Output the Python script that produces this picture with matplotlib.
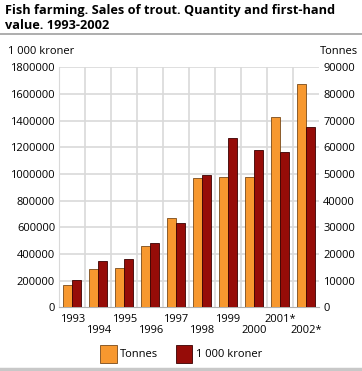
import matplotlib.pyplot as plt
import numpy as np
from matplotlib.lines import Line2D
from matplotlib.patches import Patch
from matplotlib.ticker import FormatStrFormatter

years = ['1993', '1994', '1995', '1996', '1997', '1998', '1999', '2000', '2001*', '2002*']
tonnes = [8250, 14250, 14600, 22900, 33400, 48600, 48750, 49000, 71500, 83700]
kroner = [202500, 345000, 362000, 480000, 630000, 990000, 1267500, 1177500, 1162500, 1352000]

orange = '#f7982f'
darkred = '#960c08'
grid_col = '#d9d9d9'

plt.rcParams['font.family'] = ['Open Sans', 'DejaVu Sans']
plt.rcParams['font.size'] = 8

fig = plt.figure(figsize=(3.62, 3.71), dpi=100)
ax2 = fig.add_axes([0.1638, 0.1717, 0.7172, 0.6469])
ax = ax2.twinx()   # kroner axis drawn on top, ticks moved to the left
ax.yaxis.tick_left()
ax2.yaxis.tick_right()

x = np.arange(len(years))
w = 0.346
ax2.bar(x - w / 2, tonnes, width=w, color=orange, edgecolor='#7a4a1a', linewidth=0.6, zorder=3)
ax.bar(x + w / 2, kroner, width=w, color=darkred, edgecolor='#3a0000', linewidth=0.6, zorder=3)

ax2.set_xlim(-0.5, len(years) - 0.5)
ax.set_ylim(0, 1800000)
ax2.set_ylim(0, 90000)
ax.set_yticks(np.arange(0, 1800001, 200000))
ax2.set_yticks(np.arange(0, 90001, 10000))
ax.yaxis.set_major_formatter(FormatStrFormatter('%d'))
ax2.yaxis.set_major_formatter(FormatStrFormatter('%d'))

# grid behind both bar sets
for yv in np.arange(10000, 90001, 10000):
    ax2.axhline(yv, color=grid_col, linewidth=1.2, zorder=0)
for xv in np.arange(0.5, len(years) - 0.5, 1):
    ax2.axvline(xv, color=grid_col, linewidth=1.2, zorder=0)

ax2.set_xticks(x)
ax2.set_xticklabels(years)
ax2.tick_params(axis='x', length=0, pad=5)
for i, t in enumerate(ax2.xaxis.get_major_ticks()):
    if i % 2 == 1:
        t.set_pad(13)
ax.tick_params(axis='y', length=0, pad=3)
ax2.tick_params(axis='y', length=0, pad=3)

for a in (ax, ax2):
    for s in a.spines.values():
        s.set_visible(False)
ax2.spines['left'].set_visible(True)
ax2.spines['left'].set_color(grid_col)
ax2.spines['bottom'].set_visible(True)
ax2.spines['bottom'].set_color('#b0b0b0')

fig.text(0.014, 0.99, 'Fish farming. Sales of trout. Quantity and first-hand\nvalue. 1993-2002',
         fontsize=9.2, fontweight='bold', va='top', ha='left', linespacing=1.2)
fig.add_artist(Line2D([0, 1], [0.909, 0.909], color='#a0a0a0', linewidth=1.2))
fig.add_artist(Line2D([0, 1], [0.006, 0.006], color='#c8c8c8', linewidth=2.5))

fig.text(0.022, 0.86, '1 000 kroner', ha='left', va='center')
fig.text(0.99, 0.86, 'Tonnes', ha='right', va='center')

handles = [Patch(facecolor=orange, edgecolor='#7a4a1a', linewidth=0.6),
           Patch(facecolor=darkred, edgecolor='#3a0000', linewidth=0.6)]
fig.legend(handles, ['Tonnes', '1 000 kroner'], loc='center', bbox_to_anchor=(0.5, 0.046),
           ncol=2, frameon=False, handlelength=1.5, handleheight=2.0,
           handletextpad=0.3, columnspacing=1.6, fontsize=8)

fig.savefig('out.png', dpi=100)
